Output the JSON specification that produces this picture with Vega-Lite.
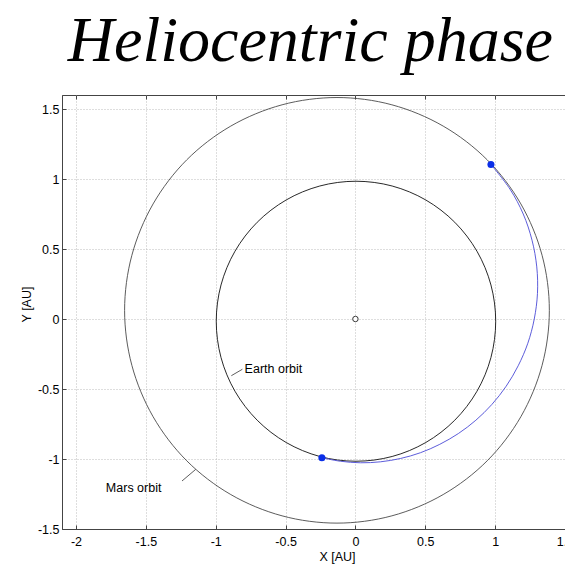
{
  "$schema": "https://vega.github.io/schema/vega-lite/v6.json",
  "width": 503,
  "height": 434,
  "autosize": {"type": "none"},
  "padding": {"left": 62, "top": 95, "right": 0, "bottom": 35},
  "background": "white",
  "title": {
    "text": "Heliocentric phase",
    "anchor": "end",
    "frame": "group",
    "font": "Liberation Serif",
    "fontStyle": "italic",
    "fontWeight": "normal",
    "fontSize": 64,
    "color": "#000000",
    "baseline": "alphabetic",
    "offset": -30,
    "dx": -12
  },
  "config": {
    "view": {"stroke": "#444444", "strokeWidth": 1},
    "axis": {
      "labelFont": "Liberation Sans",
      "labelFontSize": 12.5,
      "labelColor": "#000000",
      "titleFont": "Liberation Sans",
      "titleFontSize": 12.5,
      "titleFontWeight": "normal",
      "titleColor": "#000000",
      "domainColor": "#444444",
      "tickColor": "#444444",
      "gridColor": "#bdbdbd",
      "gridDash": [1, 2],
      "gridWidth": 1
    }
  },
  "datasets": {
    "mars": [
      {"i": 0, "x": 1.388, "y": 0.062},
      {"i": 1, "x": 1.336, "y": 0.455},
      {"i": 2, "x": 1.184, "y": 0.822},
      {"i": 3, "x": 0.943, "y": 1.137},
      {"i": 4, "x": 0.628, "y": 1.378},
      {"i": 5, "x": 0.261, "y": 1.53},
      {"i": 6, "x": -0.132, "y": 1.582},
      {"i": 7, "x": -0.525, "y": 1.53},
      {"i": 8, "x": -0.892, "y": 1.378},
      {"i": 9, "x": -1.207, "y": 1.137},
      {"i": 10, "x": -1.448, "y": 0.822},
      {"i": 11, "x": -1.6, "y": 0.455},
      {"i": 12, "x": -1.652, "y": 0.062},
      {"i": 13, "x": -1.6, "y": -0.331},
      {"i": 14, "x": -1.448, "y": -0.698},
      {"i": 15, "x": -1.207, "y": -1.013},
      {"i": 16, "x": -0.892, "y": -1.254},
      {"i": 17, "x": -0.525, "y": -1.406},
      {"i": 18, "x": -0.132, "y": -1.458},
      {"i": 19, "x": 0.261, "y": -1.406},
      {"i": 20, "x": 0.628, "y": -1.254},
      {"i": 21, "x": 0.943, "y": -1.013},
      {"i": 22, "x": 1.184, "y": -0.698},
      {"i": 23, "x": 1.336, "y": -0.331}
    ],
    "earth": [
      {"i": 0, "x": 1.004, "y": -0.016},
      {"i": 1, "x": 0.97, "y": 0.243},
      {"i": 2, "x": 0.87, "y": 0.484},
      {"i": 3, "x": 0.711, "y": 0.691},
      {"i": 4, "x": 0.504, "y": 0.85},
      {"i": 5, "x": 0.263, "y": 0.95},
      {"i": 6, "x": 0.004, "y": 0.984},
      {"i": 7, "x": -0.255, "y": 0.95},
      {"i": 8, "x": -0.496, "y": 0.85},
      {"i": 9, "x": -0.703, "y": 0.691},
      {"i": 10, "x": -0.862, "y": 0.484},
      {"i": 11, "x": -0.962, "y": 0.243},
      {"i": 12, "x": -0.996, "y": -0.016},
      {"i": 13, "x": -0.962, "y": -0.275},
      {"i": 14, "x": -0.862, "y": -0.516},
      {"i": 15, "x": -0.703, "y": -0.723},
      {"i": 16, "x": -0.496, "y": -0.882},
      {"i": 17, "x": -0.255, "y": -0.982},
      {"i": 18, "x": 0.004, "y": -1.016},
      {"i": 19, "x": 0.263, "y": -0.982},
      {"i": 20, "x": 0.504, "y": -0.882},
      {"i": 21, "x": 0.711, "y": -0.723},
      {"i": 22, "x": 0.87, "y": -0.516},
      {"i": 23, "x": 0.97, "y": -0.275}
    ],
    "transfer": [
      {"i": 0, "x": -0.24, "y": -0.991},
      {"i": 1, "x": -0.107, "y": -1.016},
      {"i": 2, "x": 0.036, "y": -1.027},
      {"i": 3, "x": 0.18, "y": -1.02},
      {"i": 4, "x": 0.324, "y": -0.996},
      {"i": 5, "x": 0.466, "y": -0.955},
      {"i": 6, "x": 0.604, "y": -0.895},
      {"i": 7, "x": 0.737, "y": -0.818},
      {"i": 8, "x": 0.862, "y": -0.723},
      {"i": 9, "x": 0.977, "y": -0.61},
      {"i": 10, "x": 1.079, "y": -0.48},
      {"i": 11, "x": 1.165, "y": -0.334},
      {"i": 12, "x": 1.234, "y": -0.173},
      {"i": 13, "x": 1.28, "y": 0.0},
      {"i": 14, "x": 1.303, "y": 0.183},
      {"i": 15, "x": 1.298, "y": 0.372},
      {"i": 16, "x": 1.264, "y": 0.563},
      {"i": 17, "x": 1.201, "y": 0.75},
      {"i": 18, "x": 1.106, "y": 0.928},
      {"i": 19, "x": 0.97, "y": 1.104}
    ],
    "dots": [
      {"name": "departure", "x": -0.24, "y": -0.991},
      {"name": "arrival", "x": 0.97, "y": 1.104}
    ],
    "sun": [{"name": "Sun", "x": 0, "y": 0}],
    "leaders": [
      {"label": "Earth orbit", "x": -0.888, "y": -0.405, "x2": -0.809, "y2": -0.359},
      {"label": "Mars orbit", "x": -1.241, "y": -1.157, "x2": -1.143, "y2": -1.074}
    ],
    "labels": [
      {"label": "Earth orbit", "x": -0.793, "y": -0.359},
      {"label": "Mars orbit", "x": -1.786, "y": -1.205}
    ]
  },
  "resolve": {"axis": {"x": "independent"}},
  "layer": [
    {
      "data": {"name": "mars"},
      "mark": {"type": "line", "interpolate": "cardinal-closed", "color": "#4a4a4a", "strokeWidth": 0.9},
      "encoding": {
        "x": {
          "field": "x", "type": "quantitative",
          "scale": {"domain": [-2.1, 1.5], "nice": false, "zero": false},
          "axis": {
            "orient": "bottom",
            "values": [-2, -1.5, -1, -0.5, 0, 0.5, 1, 1.5],
            "labelExpr": "'' + datum.value",
            "tickSize": -4,
            "labelPadding": 10,
            "title": "X [AU]",
            "titleX": 275,
            "titleY": 31,
            "titleBaseline": "alphabetic",
            "grid": true,
            "labelFlush": false
          }
        },
        "y": {
          "field": "y", "type": "quantitative",
          "scale": {"domain": [-1.5, 1.6], "nice": false, "zero": false},
          "axis": {
            "values": [-1.5, -1, -0.5, 0, 0.5, 1, 1.5],
            "labelExpr": "'' + datum.value",
            "tickSize": -4,
            "labelPadding": 7,
            "title": "Y [AU]",
            "titleX": -36,
            "titleY": 209,
            "titleAngle": -90,
            "titleAlign": "center",
            "titleBaseline": "middle",
            "grid": true,
            "labelFlush": false
          }
        },
        "order": {"field": "i", "type": "quantitative"}
      }
    },
    {
      "data": {"name": "earth"},
      "mark": {"type": "line", "interpolate": "cardinal-closed", "color": "#111111", "strokeWidth": 0.9},
      "encoding": {
        "x": {
          "field": "x", "type": "quantitative",
          "axis": {
            "orient": "top",
            "values": [-2, -1.5, -1, -0.5, 0, 0.5, 1, 1.5],
            "labels": false,
            "domain": false,
            "grid": false,
            "tickSize": -4,
            "title": null
          }
        },
        "y": {"field": "y", "type": "quantitative"},
        "order": {"field": "i", "type": "quantitative"}
      }
    },
    {
      "data": {"name": "transfer"},
      "mark": {"type": "line", "interpolate": "cardinal", "color": "#4b4bd6", "strokeWidth": 0.9},
      "encoding": {
        "x": {"field": "x", "type": "quantitative", "axis": null},
        "y": {"field": "y", "type": "quantitative"},
        "order": {"field": "i", "type": "quantitative"}
      }
    },
    {
      "data": {"name": "leaders"},
      "mark": {"type": "rule", "color": "#333333", "strokeWidth": 0.8},
      "encoding": {
        "x": {"field": "x", "type": "quantitative", "axis": null},
        "y": {"field": "y", "type": "quantitative"},
        "x2": {"field": "x2"},
        "y2": {"field": "y2"}
      }
    },
    {
      "data": {"name": "labels"},
      "mark": {"type": "text", "align": "left", "baseline": "middle", "font": "Liberation Sans", "fontSize": 12.5, "color": "#000000"},
      "encoding": {
        "x": {"field": "x", "type": "quantitative", "axis": null},
        "y": {"field": "y", "type": "quantitative"},
        "text": {"field": "label"}
      }
    },
    {
      "data": {"name": "sun"},
      "mark": {"type": "point", "filled": false, "color": "#222222", "fill": "white", "fillOpacity": 1, "strokeWidth": 0.9, "size": 30},
      "encoding": {
        "x": {"field": "x", "type": "quantitative", "axis": null},
        "y": {"field": "y", "type": "quantitative"}
      }
    },
    {
      "data": {"name": "dots"},
      "mark": {"type": "point", "filled": true, "color": "#0a2ee8", "opacity": 1, "size": 50},
      "encoding": {
        "x": {"field": "x", "type": "quantitative", "axis": null},
        "y": {"field": "y", "type": "quantitative"}
      }
    }
  ]
}
